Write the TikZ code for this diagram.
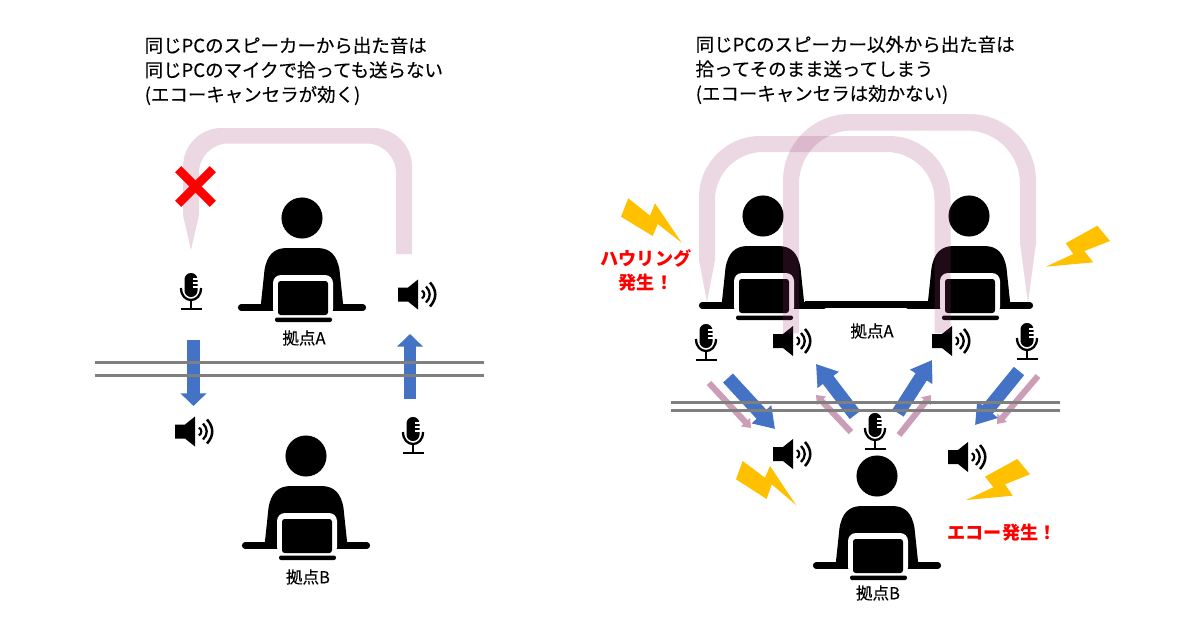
\documentclass[tikz,border=0pt]{standalone}
\usepackage{fontspec}
\setmainfont{Noto Sans CJK JP}
\usetikzlibrary{arrows.meta}
\definecolor{tubepink}{HTML}{9E3A74}
\definecolor{arrowblue}{HTML}{4472C4}
\definecolor{arrowpink}{HTML}{CB9DB6}
\definecolor{boltyellow}{HTML}{FFC000}
\definecolor{wiregray}{HTML}{7F7F7F}
\tikzset{
  tube/.style={fill=tubepink, fill opacity=0.2},
  wire/.style={wiregray, line width=2.4pt},
  bigarrow/.style={arrowblue, line width=9.3pt, -{Triangle[length=9.5pt,width=19pt]}},
  slantarrow/.style={arrowblue, line width=10pt, -{Triangle[length=15pt,width=19pt]}},
  thinarrow/.style={arrowpink, line width=4.6pt, -{Triangle[length=6pt,width=9pt]}},
  bolt/.style={fill=boltyellow},
  heading/.style={anchor=west, align=left, font=\fontsize{13.85}{18.4}\selectfont\addfontfeature{FakeBold=0.25}},
  sitelabel/.style={font=\fontsize{12.4}{15}\selectfont\addfontfeature{FakeBold=0.25}},
  alarm/.style={red, align=center, font=\fontsize{13.6}{18}\selectfont\bfseries},
  pics/person/.style={code={
    \fill (0,0) circle (15.4pt);
    \fill (-41.5,90) -- (-37.5,52) .. controls (-35,37) and (-28,30) .. (-15,30) -- (15,30)
      .. controls (28,30) and (35,37) .. (37.5,52) -- (41.5,90) -- cycle;
    \draw[line width=4.6pt, line cap=round] (-61,89.5) -- (61,89.5);
    \fill[white, rounded corners=6pt] (-29,57) rectangle (31,99);
    \fill[rounded corners=2pt] (-24,63) rectangle (26,97);
    \fill[rounded corners=1.5pt] (-27,99.5) rectangle (30,104);
  }},
  pics/mic/.style={code={
    \fill[rounded corners=4.8pt] (-6.5,0) rectangle (6.5,24);
    \foreach \y in {6,10,14}
      \draw[white, line width=0.9pt] (1.5,\y) -- (7,\y);
    \draw[line width=1.7pt] (-10,15) .. controls (-10,31) and (10,31) .. (10,15);
    \draw[line width=1.7pt] (0,27) -- (0,36);
    \draw[line width=1.7pt] (-10.5,36) -- (10.5,36);
  }},
  pics/speaker/.style={code={
    \fill (0,-7) -- (10,-7) -- (20,-15) -- (20,15) -- (10,7) -- (0,7) -- cycle;
    \draw[line width=1.6pt] (24,-4) .. controls (27,-2) and (27,2) .. (24,4);
    \draw[line width=1.7pt] (28,-8) .. controls (33,-3) and (33,3) .. (28,8);
    \draw[line width=1.9pt] (32,-12) .. controls (39,-4) and (39,4) .. (32,12);
  }}
}
\begin{document}
\begin{tikzpicture}[x=0.75pt, y=-0.75pt]
  \useasboundingbox (0,0) rectangle (1200,622);
  % left panel
  \node[heading] (titleA) at (140,71) {同じPCのスピーカーから出た音は\\同じPCのマイクで拾っても送らない\\(エコーキャンセラが効く)};
  \pic at (302,218) {person};
  \pic at (306,456) {person};
  \pic at (191,273) {mic};
  \pic at (413,417) {mic};
  \pic at (398,294.5) {speaker};
  \pic at (175,431.5) {speaker};
  \node[sitelabel] (siteA) at (304,338) {拠点A};
  \node[sitelabel] (siteB) at (308,577) {拠点B};
  \draw[bigarrow] (193.5,340) -- (193.5,406);
  \draw[bigarrow] (410,399) -- (410,334);
  \draw[wire] (95,362.5) -- (484,362.5);
  \draw[wire] (95,375.5) -- (484,375.5);
  \fill[tube] (412,254) [rounded corners=29pt] -- (412,128) -- (183,128) [sharp corners] -- (183,215)
    -- (191,250) -- (199,215) [rounded corners=22pt] -- (199,143.5) -- (396,143.5) [sharp corners] -- (396,254) -- cycle;
  \draw[red, line width=6.6pt] (178.2,169.2) -- (212.8,203.8);
  \draw[red, line width=6.6pt] (212.8,169.2) -- (178.2,203.8);
  % right panel
  \node[heading] (titleB) at (691,70) {同じPCのスピーカー以外から出た音は\\拾ってそのまま送ってしまう\\(エコーキャンセラは効かない)};
  \pic at (763,216) {person};
  \pic at (969,216) {person};
  \pic at (877,476) {person};
  \fill (805,301) rectangle (930,308);
  \pic at (706,324) {mic};
  \pic at (1027,323) {mic};
  \pic at (875,413) {mic};
  \pic at (773,341) {speaker};
  \pic at (932,341) {speaker};
  \pic at (773,454) {speaker};
  \pic at (948,457) {speaker};
  \node[sitelabel] (siteC) at (872,331) {拠点A};
  \node[sitelabel] (siteD) at (878,593) {拠点B};
  \draw[thinarrow] (709,383) -- (751,428);
  \draw[thinarrow] (851,432) -- (816,395);
  \draw[thinarrow] (899,435) -- (931,395);
  \draw[thinarrow] (1038,376) -- (997,424);
  \draw[slantarrow] (728,378) -- (775,429);
  \draw[slantarrow] (855,415) -- (816,364);
  \draw[slantarrow] (898,413) -- (932,360);
  \draw[slantarrow] (1019,371) -- (975,425);
  \draw[wire] (671,402.5) -- (1060,402.5);
  \draw[wire] (671,410.5) -- (1060,410.5);
  \fill[tube] (950.5,333) -- (950.5,200) [rounded corners=46pt] -- (950.5,136) -- (699,136) [sharp corners] -- (699,260)
    -- (707,302) -- (715,260) [rounded corners=36pt] -- (715,152) -- (934.5,152) [sharp corners] -- (934.5,333) -- cycle;
  \fill[tube] (783,333) [rounded corners=50pt] -- (783,114) -- (1036,114) [sharp corners] -- (1036,243)
    -- (1028,303) -- (1020,243) [rounded corners=40pt] -- (1020,130.5) -- (799,130.5) [sharp corners] -- (799,333) -- cycle;
  % bolts
  \fill[bolt] (628.3,198.3) -- (650,215.7) -- (655,203.3) -- (681.7,242.7) -- (657.7,224) -- (652.7,236) -- (621,216.7) -- cycle;
  \fill[bolt] (1097.3,225.7) -- (1110,241) -- (1084.3,251) -- (1093.3,262.3) -- (1046,266.7) -- (1073.3,254) -- (1065.7,243.3) -- cycle;
  \fill[bolt] (742.7,461) -- (765,477.7) -- (770,466) -- (796,505) -- (771.7,484.3) -- (766.7,499) -- (736,479.3) -- cycle;
  \fill[bolt] (1017.3,459) -- (1030,474.3) -- (1005,484.3) -- (1012.7,495.7) -- (966,500) -- (993.3,487.3) -- (985,476.7) -- cycle;
  \node[alarm] (howl) at (646,270) {ハウリング\\発生！};
  \node[alarm] (echo) at (1002,533) {エコー発生！};
\end{tikzpicture}
\end{document}
